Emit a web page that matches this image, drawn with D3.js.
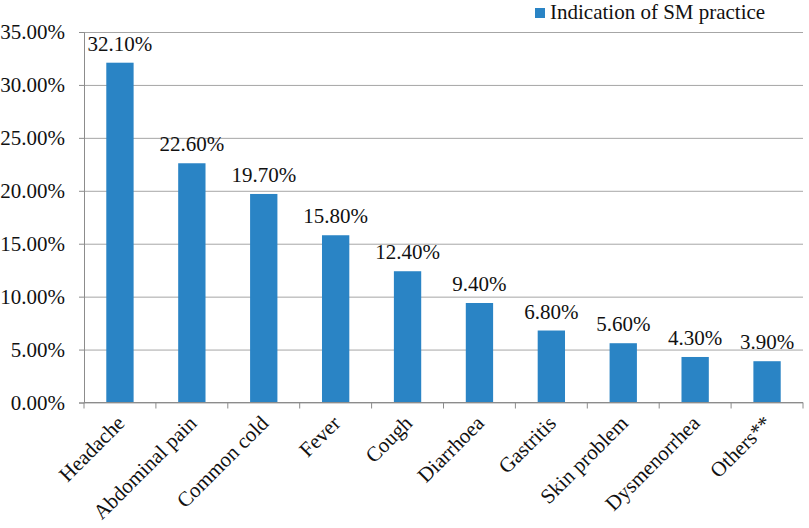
<!DOCTYPE html>
<html>
<head>
<meta charset="utf-8">
<script src="https://cdn.jsdelivr.net/npm/d3@7"></script>
</head>
<body style="margin:0">
<svg width="809" height="528"></svg>
<script>
const categories = ['Headache', 'Abdominal pain', 'Common cold', 'Fever', 'Cough',
  'Diarrhoea', 'Gastritis', 'Skin problem', 'Dysmenorrhea', 'Others**'];
const values = [32.1, 22.6, 19.7, 15.8, 12.4, 9.4, 6.8, 5.6, 4.3, 3.9];
const yTicks = [0, 5, 10, 15, 20, 25, 30, 35];
const seriesName = 'Indication of SM practice';

const FONT = "'Times New Roman', 'Liberation Serif', Tinos, serif";
const BLUE = '#2a84c5';
const AXIS = '#8c8c8c';

const svg = d3.select('svg');
const plotLeft = 84, plotRight = 803, plotTop = 32, plotBottom = 402.5;

const x = d3.scaleBand()
  .domain(categories)
  .range([plotLeft, plotRight])
  .padding(0);

const y = d3.scaleLinear()
  .domain([0, 35])
  .range([plotBottom, plotTop]);

const barW = x.bandwidth() * 0.38;
const fmt = (v) => v.toFixed(2) + '%';

// serif labels, set on each text as inline style
const serif = (sel) => sel
  .style('font-family', FONT)
  .style('font-size', '21px')
  .style('fill', '#111');

// gridlines
const grid = svg.append('g')
  .attr('transform', `translate(${plotLeft},0)`)
  .call(d3.axisLeft(y).tickValues(yTicks).tickSize(-(plotRight - plotLeft)).tickFormat(''));
grid.select('.domain').remove();
grid.selectAll('line').attr('stroke', '#a6a6a6');

// y axis
const yAxis = svg.append('g')
  .attr('transform', `translate(${plotLeft},0)`)
  .call(d3.axisLeft(y).tickValues(yTicks).tickSize(5).tickPadding(14).tickFormat(fmt));
yAxis.attr('font-family', null).attr('font-size', null);
yAxis.selectAll('path, line').attr('stroke', AXIS);
yAxis.selectAll('text').call(serif).attr('dy', '0.33em');

// bars
svg.append('g')
  .selectAll('rect')
  .data(values)
  .enter()
  .append('rect')
  .attr('x', (d, i) => x(categories[i]) + (x.bandwidth() - barW) / 2)
  .attr('y', (d) => y(d))
  .attr('width', barW)
  .attr('height', (d) => y(0) - y(d))
  .attr('fill', BLUE);

// value labels
svg.append('g')
  .selectAll('text')
  .data(values)
  .enter()
  .append('text')
  .attr('x', (d, i) => x(categories[i]) + x.bandwidth() / 2)
  .attr('y', (d) => y(d) - 12)
  .attr('text-anchor', 'middle')
  .call(serif)
  .text(fmt);

// x axis
const xAxis = svg.append('g')
  .attr('transform', `translate(0,${plotBottom})`);
xAxis.append('line')
  .attr('x1', plotLeft).attr('x2', plotRight)
  .attr('stroke', AXIS);
xAxis.selectAll('.tk')
  .data(d3.range(categories.length + 1))
  .enter()
  .append('line')
  .attr('class', 'tk')
  .attr('x1', (i) => plotLeft + i * x.step())
  .attr('x2', (i) => plotLeft + i * x.step())
  .attr('y1', 0).attr('y2', 6)
  .attr('stroke', AXIS);
xAxis.selectAll('.lbl')
  .data(categories)
  .enter()
  .append('text')
  .attr('class', 'lbl')
  .attr('text-anchor', 'end')
  .attr('transform', (d) => `translate(${x(d) + x.bandwidth() / 2 + 6},${22}) rotate(-45)`)
  .call(serif)
  .text((d) => d);

// legend
const legend = svg.append('g').attr('transform', 'translate(535,8)');
legend.append('rect').attr('width', 10).attr('height', 10).attr('fill', BLUE);
legend.append('text')
  .attr('x', 15).attr('y', 11)
  .call(serif)
  .text(seriesName);
</script>
</body>
</html>
